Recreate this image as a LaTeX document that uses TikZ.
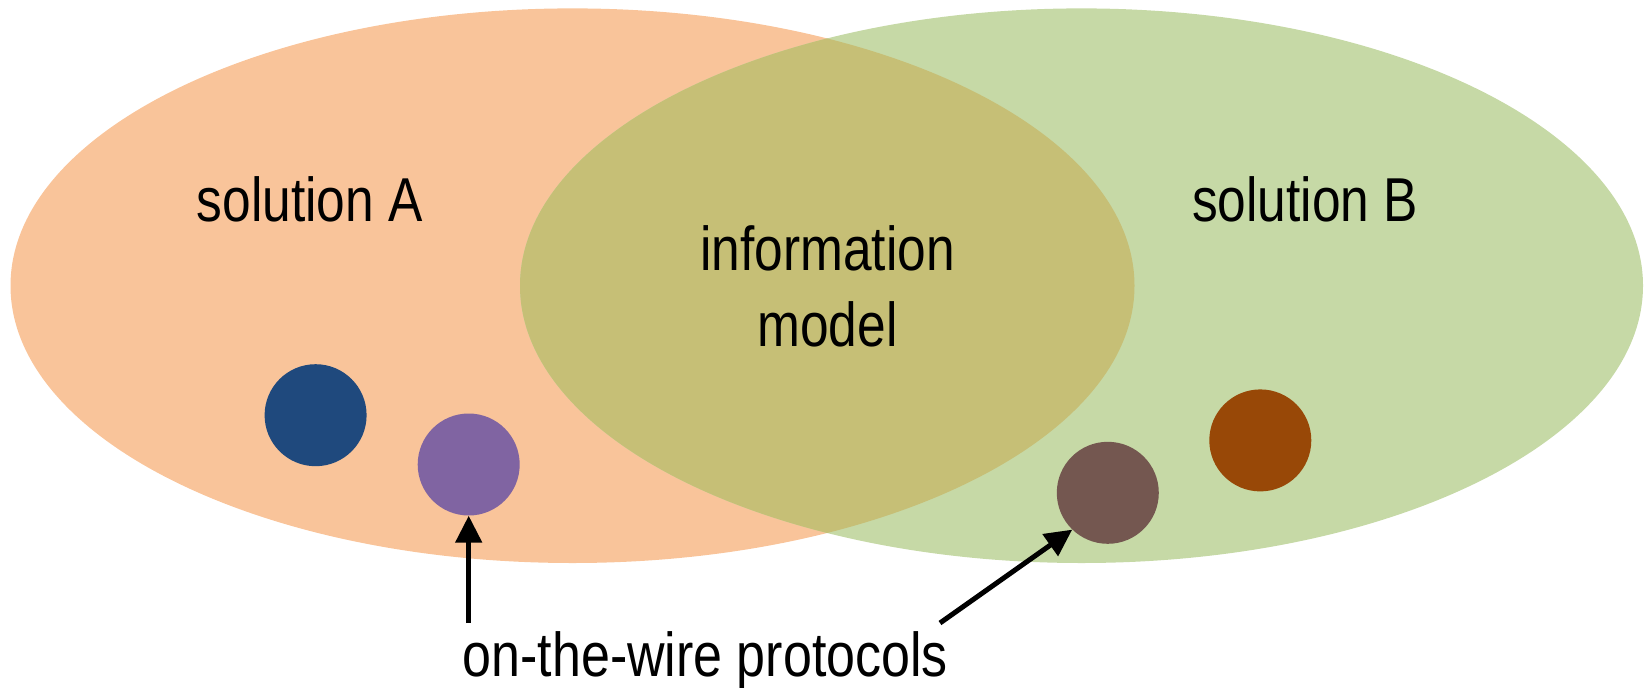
\documentclass[tikz,border=0pt]{standalone}
\usepackage{fontspec}
\setmainfont{Liberation Sans}
\usetikzlibrary{arrows.meta}

\definecolor{solAfill}{HTML}{F9C49A}
\definecolor{solBfill}{HTML}{C6D9A6}
\definecolor{modelfill}{HTML}{C6BF76}
\definecolor{dotblue}{HTML}{1F497D}
\definecolor{dotpurple}{HTML}{8064A2}
\definecolor{dotgrey}{HTML}{745750}
\definecolor{dotbrown}{HTML}{984807}

\tikzset{
  dot/.style={circle,inner sep=0pt,minimum size=102pt},
  bigtext/.style={font=\fontsize{62}{76}\selectfont,xscale=0.83,inner sep=0pt},
  pointer/.style={line width=5pt,-{Triangle[length=27pt,width=26pt]}}
}

\begin{document}
\begin{tikzpicture}[x=1pt,y=-1pt]
  \useasboundingbox (0,0) rectangle (1644,688);
  \fill[solAfill] (572.5,285.7) ellipse [x radius=562, y radius=277.3];
  \fill[solBfill] (1081.5,285.7) ellipse [x radius=561.5, y radius=277.3];
  \begin{scope}
    \clip (572.5,285.7) ellipse [x radius=562, y radius=277.3];
    \fill[modelfill] (1081.5,285.7) ellipse [x radius=561.5, y radius=277.3];
  \end{scope}

  \node[bigtext,anchor=base] (solA) at (309.7,221) {solution A};
  \node[bigtext,anchor=base] (solB) at (1305,221) {solution B};
  \node[bigtext,anchor=north,align=center] (infomodel) at (827.5,225) {information\\model};

  \node[dot,fill=dotblue] (blue) at (315.6,415.2) {};
  \node[dot,fill=dotpurple] (purple) at (468.7,464.5) {};
  \node[dot,fill=dotgrey] (grey) at (1107.8,492.8) {};
  \node[dot,fill=dotbrown] (brown) at (1260.3,440.4) {};

  \node[bigtext,xscale=1.01,anchor=base] (wire) at (705.3,676.7) {on-the-wire protocols};
  \coordinate (tailA) at (468.7,623);
  \coordinate (tailB) at (940,623);
  \draw[pointer] (tailA) -- (purple.south);
  \draw[pointer] (tailB) -- (grey.226);
\end{tikzpicture}
\end{document}
